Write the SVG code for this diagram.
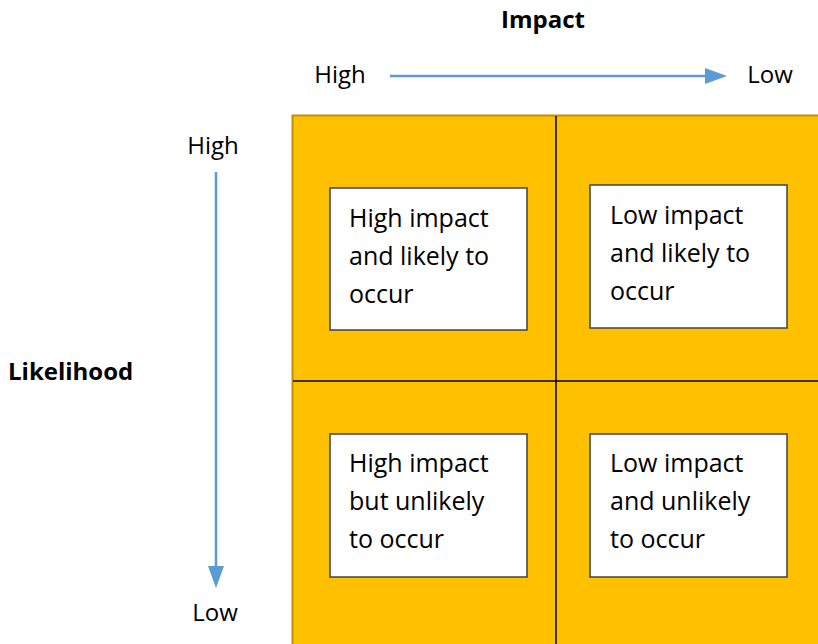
<svg xmlns="http://www.w3.org/2000/svg" width="818" height="644" viewBox="0 0 818 644">
<style>
text{font-family:"Open Sans","Liberation Sans",sans-serif;font-size:24px;fill:#000}
.b{font-weight:bold}
.t{font-size:25px}
.box{fill:#fff;stroke:#404040;stroke-width:1.5}
.ax{stroke:#5B9BD5;stroke-width:2.5;fill:none}
</style>
<defs>
<marker id="ah2" viewBox="0 0 22 16" refX="0" refY="8" markerWidth="22" markerHeight="16" orient="auto" markerUnits="userSpaceOnUse">
<path d="M0,0 L22,8 L0,16 Z" fill="#5B9BD5"/>
</marker>
</defs>
<g id="labels">
<text class="b" x="543" y="28" text-anchor="middle">Impact</text>
<text class="b" x="8" y="380">Likelihood</text>
<text x="340" y="83" text-anchor="middle">High</text>
<text x="770" y="83" text-anchor="middle">Low</text>
<text x="213" y="154" text-anchor="middle">High</text>
<text x="215" y="621" text-anchor="middle">Low</text>
</g>
<g id="grid">
<rect x="292.5" y="115.5" width="530" height="530" fill="#FFC000" stroke="#C09000" stroke-width="2"/>
<line x1="556" y1="116" x2="556" y2="644" stroke="#000" stroke-width="1.5"/>
<line x1="293" y1="381" x2="818" y2="381" stroke="#000" stroke-width="1.5"/>
</g>
<g id="connectors">
<line class="ax" x1="390" y1="76" x2="705" y2="76" marker-end="url(#ah2)"/>
<line class="ax" x1="216" y1="172" x2="216" y2="566" marker-end="url(#ah2)"/>
</g>
<g id="q1">
<rect class="box" x="330" y="188" width="197" height="142"/>
<text class="t" x="349" y="227">High impact</text>
<text class="t" x="349" y="265">and likely to</text>
<text class="t" x="349" y="303">occur</text>
</g>
<g id="q2">
<rect class="box" x="590" y="185" width="197" height="143"/>
<text class="t" x="610" y="224">Low impact</text>
<text class="t" x="610" y="262">and likely to</text>
<text class="t" x="610" y="300">occur</text>
</g>
<g id="q3">
<rect class="box" x="330" y="434" width="197" height="143"/>
<text class="t" x="349" y="472">High impact</text>
<text class="t" x="349" y="510">but unlikely</text>
<text class="t" x="349" y="548">to occur</text>
</g>
<g id="q4">
<rect class="box" x="590" y="434" width="197" height="143"/>
<text class="t" x="610" y="472">Low impact</text>
<text class="t" x="610" y="510">and unlikely</text>
<text class="t" x="610" y="548">to occur</text>
</g>
</svg>
